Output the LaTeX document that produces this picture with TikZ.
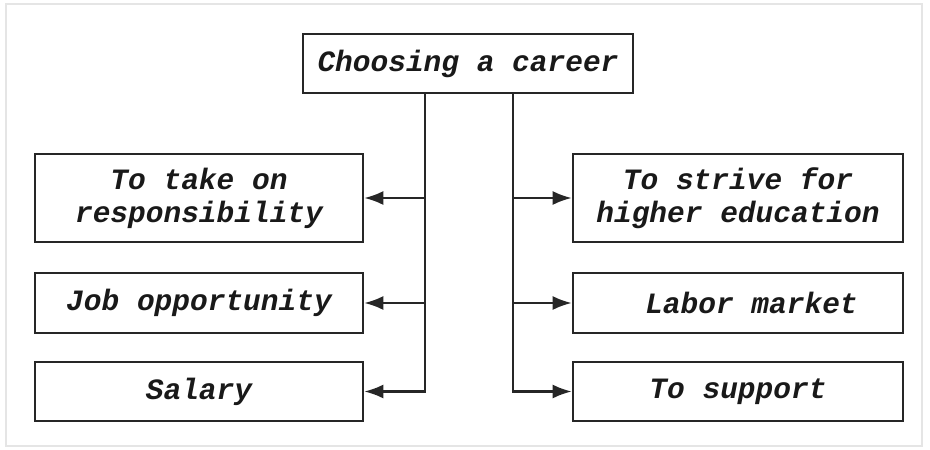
\documentclass[tikz,border=0pt]{standalone}
\usepackage{fontspec}
\setmonofont{Liberation Mono}
\usetikzlibrary{arrows.meta}

\tikzset{
  box/.style={draw=black!85, line width=2.6pt, inner sep=0pt, align=center,
    text=black!90, font=\fontsize{29.5}{33}\selectfont\ttfamily\bfseries\itshape},
  wire/.style={draw=black!85, line width=2.2pt}
}

\begin{document}
\begin{tikzpicture}[x=1pt,y=-1pt,>={Latex[length=19pt,width=14pt]}]
    \useasboundingbox (0,0) rectangle (930,450);
    \draw[black!10, line width=1.2pt] (6,4) rectangle (922,446);
    \node at (468,63.5)[box, minimum width=330pt, minimum height=59pt] (top){Choosing a career};
    \node at (199,198)[box, minimum width=328pt, minimum height=88pt] (resp){To take on\\responsibility};
    \node at (199,303)[box, minimum width=328pt, minimum height=60pt] (job){Job opportunity};
    \node at (199,391.5)[box, minimum width=328pt, minimum height=59pt] (sal){Salary};
    \node at (738,198)[box, minimum width=330pt, minimum height=88pt] (edu){To strive for\\higher education};
    \node at (738,303)[box, minimum width=330pt, minimum height=60pt] (lab){\hspace*{27pt}Labor market};
    \node at (738,391.5)[box, minimum width=330pt, minimum height=59pt] (sup){To support};
    \coordinate (lbus) at (425,0);
    \coordinate (rbus) at (513,0);
    \draw[wire,->] (top.south -| lbus) |- (sal.east);
    \draw[wire,->] (lbus |- resp.east) -- (resp.east);
    \draw[wire,->] (lbus |- job.east) -- (job.east);
    \draw[wire,->] (top.south -| rbus) |- (sup.west);
    \draw[wire,->] (rbus |- edu.west) -- (edu.west);
    \draw[wire,->] (rbus |- lab.west) -- (lab.west);
  \end{tikzpicture}
\end{document}
